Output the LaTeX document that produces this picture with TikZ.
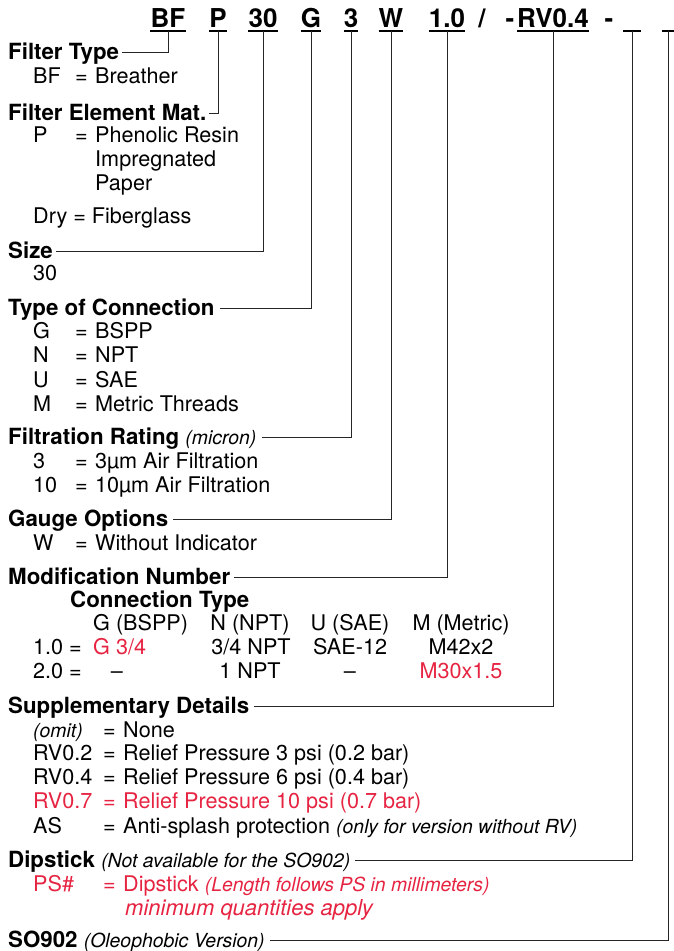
\documentclass[tikz,border=0pt]{standalone}
\usepackage{fontspec}
\setmainfont{TeX Gyre Heros}
\definecolor{hred}{RGB}{230,36,66}
\begin{document}
\begin{tikzpicture}[x=1pt,y=-1pt,
  hdr/.style={anchor=base, inner sep=0pt, font=\fontsize{26}{30}\selectfont\bfseries},
  lbl/.style={anchor=base west, inner sep=0pt, font=\fontsize{22.3}{24}\selectfont\bfseries},
  txt/.style={anchor=base west, inner sep=0pt, font=\fontsize{21.6}{24}\selectfont},
  ctr/.style={anchor=base, inner sep=0pt, font=\fontsize{21.6}{24}\selectfont},
  conn/.style={line width=1pt, draw=black!85},
  ul/.style={line width=2pt}]
\newcommand\nt[1]{{\mdseries\itshape\fontsize{19.4}{22}\selectfont #1}}
\newcommand\cd[2]{\makebox[#1][l]{#2}}
\useasboundingbox (0,0) rectangle (674,951);
% header
\node[hdr] (hBF) at (168,27) {BF};
\node[hdr] (hP) at (218,27) {P};
\node[hdr] (h30) at (263,27) {30};
\node[hdr] (hG) at (311,27) {G};
\node[hdr] (h3) at (351,27) {3};
\node[hdr] (hW) at (391,27) {W};
\node[hdr] (h10) at (447,27) {1.0};
\node[hdr] (hsl) at (482,27) {/};
\node[hdr] (hd1) at (510,27) {-};
\node[hdr] (hRV) at (553,27) {RV0.4};
\node[hdr] (hd2) at (609,27) {-};
\node[hdr] (hb1) at (632,27) {\hspace*{17pt}};
\node[hdr] (hb2) at (668,27) {\hspace*{12pt}};
\foreach \n in {hBF,hP,h30,hG,h3,hW,h10,hRV,hb1,hb2}
  \draw[ul] ([yshift=-4pt]\n.base west) -- ([yshift=-4pt]\n.base east);
% labels and items
\node[lbl] (lFT) at (8,59) {Filter Type};
\node[txt] (iBF) at (33,83) {\cd{42pt}{BF}\cd{20pt}{=}Breather};
\node[lbl] (lFE) at (8,120) {Filter Element Mat.};
\node[txt] (iP) at (33,142) {\cd{42pt}{P}\cd{20pt}{=}Phenolic Resin};
\node[txt] (iP2) at (95,166) {Impregnated};
\node[txt] (iP3) at (95,190) {Paper};
\node[txt] (iDry) at (33,223) {Dry = Fiberglass};
\node[lbl] (lSZ) at (8,258) {Size};
\node[txt] (i30) at (33,280) {30};
\node[lbl] (lTC) at (8,315) {Type of Connection};
\node[txt] (iG) at (33,338) {\cd{42pt}{G}\cd{20pt}{=}BSPP};
\node[txt] (iN) at (33,362) {\cd{42pt}{N}\cd{20pt}{=}NPT};
\node[txt] (iU) at (33,387) {\cd{42pt}{U}\cd{20pt}{=}SAE};
\node[txt] (iM) at (33,411) {\cd{42pt}{M}\cd{20pt}{=}Metric Threads};
\node[lbl] (lFR) at (8,444) {Filtration Rating \nt{(micron)}};
\node[txt] (i3) at (33,468) {\cd{42pt}{3}\cd{20pt}{=}3µm Air Filtration};
\node[txt] (i10) at (33,492) {\cd{42pt}{10}\cd{20pt}{=}10µm Air Filtration};
\node[lbl] (lGO) at (8,526) {Gauge Options};
\node[txt] (iW) at (33,550) {\cd{42pt}{W}\cd{20pt}{=}Without Indicator};
\node[lbl] (lMN) at (8,584) {Modification Number};
\node[lbl] (lCT) at (70,607) {Connection Type};
\node[txt] (c1h) at (93,630) {G (BSPP)};
\node[ctr] (c2h) at (250,630) {N (NPT)};
\node[ctr] (c3h) at (350,630) {U (SAE)};
\node[ctr] (c4h) at (461,630) {M (Metric)};
\node[txt] (r1) at (33,654) {1.0 =};
\node[txt, text=hred] (r1c1) at (93,654) {G 3/4};
\node[ctr] (r1c2) at (251,654) {3/4 NPT};
\node[ctr] (r1c3) at (350,654) {SAE-12};
\node[ctr] (r1c4) at (461,654) {M42x2};
\node[txt] (r2) at (33,678) {2.0 =};
\node[ctr] (r2c1) at (117,678) {–};
\node[ctr] (r2c2) at (250,678) {1 NPT};
\node[ctr] (r2c3) at (350,678) {–};
\node[ctr, text=hred] (r2c4) at (461,678) {M30x1.5};
\node[lbl] (lSD) at (8,713) {Supplementary Details};
\node[txt] (sOm) at (33,737) {\cd{70pt}{\nt{(omit)}}\cd{20pt}{=}None};
\node[txt] (s02) at (33,760) {\cd{70pt}{RV0.2}\cd{20pt}{=}Relief Pressure 3 psi (0.2 bar)};
\node[txt] (s04) at (33,784) {\cd{70pt}{RV0.4}\cd{20pt}{=}Relief Pressure 6 psi (0.4 bar)};
\node[txt, text=hred] (s07) at (33,808) {\cd{70pt}{RV0.7}\cd{20pt}{=}Relief Pressure 10 psi (0.7 bar)};
\node[txt] (sAS) at (33,833) {\cd{70pt}{AS}\cd{20pt}{=}Anti-splash protection \nt{(only for version without RV)}};
\node[lbl] (lDS) at (8,867) {Dipstick \nt{(Not available for the SO902)}};
\node[txt, text=hred] (dPS) at (33,891) {\cd{70pt}{PS\#}\cd{20pt}{=}Dipstick \nt{(Length follows PS in millimeters)}};
\node[txt, text=hred, font=\fontsize{22}{24}\selectfont\itshape] (dMin) at (125,915) {minimum quantities apply};
\node[lbl] (lSO) at (8,947) {SO902 \nt{(Oleophobic Version)}};
% connectors
\draw[conn] ([yshift=-4pt]hBF.base) |- ([xshift=3pt,yshift=7pt]lFT.base east);
\draw[conn] ([yshift=-4pt]hP.base) |- ([xshift=2pt,yshift=7pt]lFE.base east);
\draw[conn] ([yshift=-4pt]h30.base) |- ([xshift=3pt,yshift=7pt]lSZ.base east);
\draw[conn] ([yshift=-4pt]hG.base) |- ([xshift=5pt,yshift=7pt]lTC.base east);
\draw[conn] ([yshift=-4pt]h3.base) |- ([xshift=5pt,yshift=7pt]lFR.base east);
\draw[conn] ([yshift=-4pt]hW.base) |- ([xshift=5pt,yshift=7pt]lGO.base east);
\draw[conn] ([yshift=-4pt]h10.base) |- ([xshift=4pt,yshift=7pt]lMN.base east);
\draw[conn] ([yshift=-4pt]hRV.base) |- ([xshift=5pt,yshift=7pt]lSD.base east);
\draw[conn] ([yshift=-4pt]hb1.base) |- ([xshift=5pt,yshift=7pt]lDS.base east);
\draw[conn] ([yshift=-4pt]hb2.base) |- ([xshift=5pt,yshift=7pt]lSO.base east);
\end{tikzpicture}
\end{document}
